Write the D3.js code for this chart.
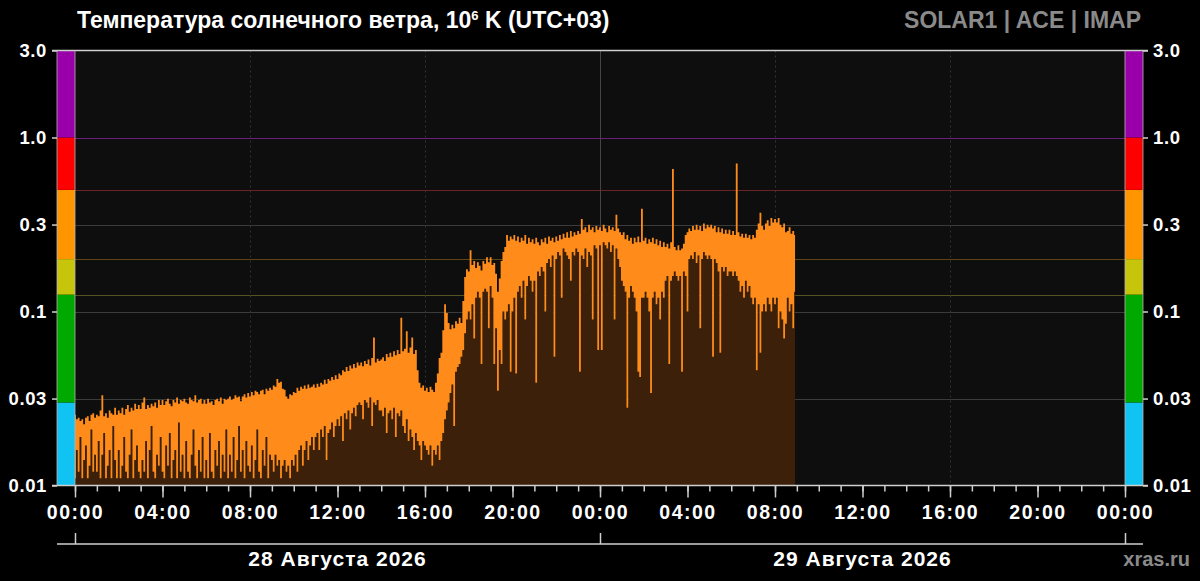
<!DOCTYPE html>
<html>
<head>
<meta charset="utf-8">
<script src="https://cdn.jsdelivr.net/npm/d3@7"></script>
<style>
  html, body { margin: 0; padding: 0; background: #000; }
  svg { display: block; font-family: "Liberation Sans", Arial, sans-serif; }
</style>
</head>
<body>
<div id="chart"></div>
<script>
// Solar wind temperature, 10^6 K, 5-minute samples from 28.08.2026 00:00 (UTC+03)
// upper value of each sample (one row = one hour, 12 samples)
const tempHigh = [
  0.0255, 0.024, 0.0245, 0.0235, 0.024, 0.0225, 0.0245, 0.025, 0.0235, 0.0255, 0.026, 0.0245,
  0.0255, 0.025, 0.027, 0.033, 0.025, 0.026, 0.0245, 0.027, 0.026, 0.0255, 0.028, 0.0255,
  0.027, 0.026, 0.028, 0.0255, 0.0275, 0.029, 0.0265, 0.028, 0.027, 0.0295, 0.0275, 0.029,
  0.0275, 0.030, 0.032, 0.0275, 0.029, 0.028, 0.0295, 0.0285, 0.030, 0.028, 0.031, 0.029,
  0.031, 0.029, 0.0305, 0.0315, 0.0295, 0.0285, 0.031, 0.030, 0.032, 0.0295, 0.031, 0.0305,
  0.0315, 0.030, 0.0295, 0.032, 0.031, 0.0305, 0.033, 0.030, 0.031, 0.0315, 0.0295, 0.031,
  0.0295, 0.0315, 0.030, 0.0305, 0.029, 0.031, 0.0315, 0.0305, 0.032, 0.0295, 0.0315, 0.031,
  0.0315, 0.0325, 0.031, 0.0315, 0.033, 0.032, 0.0325, 0.0305, 0.0325, 0.0335, 0.032, 0.034,
  0.0325, 0.0345, 0.033, 0.035, 0.0345, 0.0335, 0.035, 0.0355, 0.0335, 0.036, 0.035, 0.0365,
  0.0355, 0.0375, 0.037, 0.041, 0.039, 0.0395, 0.036, 0.0355, 0.0325, 0.0315, 0.0335, 0.033,
  0.0345, 0.034, 0.0365, 0.035, 0.037, 0.036, 0.0375, 0.036, 0.038, 0.0365, 0.037, 0.038,
  0.0365, 0.0385, 0.037, 0.039, 0.038, 0.0405, 0.0385, 0.041, 0.040, 0.042, 0.0405, 0.043,
  0.041, 0.044, 0.043, 0.046, 0.045, 0.048, 0.0455, 0.049, 0.047, 0.050, 0.0475, 0.051,
  0.049, 0.051, 0.0485, 0.052, 0.050, 0.053, 0.049, 0.054, 0.071, 0.051, 0.0535, 0.052,
  0.053, 0.0545, 0.052, 0.057, 0.0545, 0.058, 0.055, 0.059, 0.056, 0.060, 0.057, 0.092,
  0.059, 0.061, 0.077, 0.058, 0.062, 0.071, 0.057, 0.060, 0.046, 0.039, 0.0365, 0.0375,
  0.035, 0.0365, 0.0345, 0.037, 0.0355, 0.0345, 0.039, 0.044, 0.054, 0.058, 0.078, 0.110,
  0.098, 0.086, 0.079, 0.084, 0.080, 0.088, 0.085, 0.092, 0.086, 0.115, 0.158, 0.175,
  0.170, 0.225, 0.185, 0.195, 0.178, 0.192, 0.183, 0.172, 0.195, 0.188, 0.205, 0.192,
  0.205, 0.185, 0.190, 0.165, 0.130, 0.155, 0.195, 0.220, 0.235, 0.275, 0.255, 0.270,
  0.260, 0.275, 0.255, 0.270, 0.250, 0.265, 0.255, 0.275, 0.245, 0.265, 0.250, 0.260,
  0.245, 0.265, 0.250, 0.240, 0.260, 0.250, 0.265, 0.245, 0.270, 0.255, 0.265, 0.250,
  0.270, 0.255, 0.275, 0.260, 0.280, 0.265, 0.285, 0.265, 0.290, 0.270, 0.285, 0.275,
  0.290, 0.280, 0.340, 0.295, 0.305, 0.285, 0.315, 0.295, 0.305, 0.285, 0.310, 0.295,
  0.305, 0.290, 0.315, 0.300, 0.285, 0.310, 0.295, 0.305, 0.290, 0.360, 0.300, 0.285,
  0.275, 0.285, 0.260, 0.275, 0.255, 0.265, 0.245, 0.265, 0.250, 0.270, 0.250, 0.390,
  0.255, 0.265, 0.245, 0.260, 0.250, 0.265, 0.245, 0.260, 0.240, 0.255, 0.235, 0.250,
  0.235, 0.245, 0.230, 0.250, 0.660, 0.235, 0.225, 0.240, 0.225, 0.230, 0.245, 0.275,
  0.285, 0.300, 0.290, 0.310, 0.295, 0.315, 0.295, 0.310, 0.290, 0.320, 0.300, 0.315,
  0.305, 0.315, 0.300, 0.310, 0.285, 0.305, 0.285, 0.300, 0.280, 0.295, 0.280, 0.295,
  0.275, 0.290, 0.275, 0.710, 0.285, 0.270, 0.280, 0.265, 0.280, 0.265, 0.275, 0.260,
  0.275, 0.265, 0.295, 0.320, 0.370, 0.310, 0.295, 0.320, 0.335, 0.310, 0.345, 0.325,
  0.340, 0.325, 0.345, 0.315, 0.305, 0.320, 0.285, 0.290, 0.305, 0.280, 0.290, 0.275
];

// lower value of each sample
const tempLow = [
  0.011, 0.016, 0.012, 0.019, 0.011, 0.014, 0.017, 0.011, 0.013, 0.021, 0.012, 0.015,
  0.012, 0.018, 0.011, 0.015, 0.020, 0.011, 0.013, 0.016, 0.011, 0.022, 0.014, 0.011,
  0.016, 0.011, 0.013, 0.019, 0.012, 0.011, 0.015, 0.021, 0.011, 0.014, 0.017, 0.012,
  0.011, 0.014, 0.012, 0.018, 0.011, 0.016, 0.022, 0.012, 0.011, 0.015, 0.013, 0.019,
  0.012, 0.011, 0.017, 0.013, 0.020, 0.011, 0.014, 0.016, 0.011, 0.023, 0.012, 0.015,
  0.011, 0.018, 0.012, 0.011, 0.015, 0.021, 0.013, 0.011, 0.016, 0.012, 0.019, 0.011,
  0.014, 0.011, 0.020, 0.012, 0.011, 0.016, 0.013, 0.018, 0.011, 0.015, 0.012, 0.021,
  0.011, 0.015, 0.012, 0.019, 0.011, 0.014, 0.022, 0.012, 0.016, 0.011, 0.018, 0.013,
  0.012, 0.017, 0.011, 0.014, 0.021, 0.012, 0.011, 0.016, 0.013, 0.019, 0.011, 0.015,
  0.014, 0.012, 0.015, 0.013, 0.014, 0.011, 0.013, 0.014, 0.012, 0.013, 0.011, 0.014,
  0.013, 0.015, 0.012, 0.016, 0.017, 0.013, 0.016, 0.018, 0.014, 0.017, 0.019, 0.016,
  0.019, 0.020, 0.016, 0.021, 0.019, 0.022, 0.014, 0.020, 0.021, 0.023, 0.019, 0.022,
  0.024, 0.022, 0.025, 0.018, 0.026, 0.024, 0.027, 0.021, 0.026, 0.028, 0.025, 0.029,
  0.030, 0.029, 0.024, 0.031, 0.030, 0.028, 0.032, 0.022, 0.030, 0.029, 0.031, 0.027,
  0.027, 0.025, 0.028, 0.020, 0.026, 0.027, 0.024, 0.028, 0.019, 0.026, 0.025, 0.027,
  0.022, 0.020, 0.024, 0.018, 0.021, 0.019, 0.016, 0.020, 0.018, 0.017, 0.014, 0.018,
  0.017, 0.016, 0.015, 0.017, 0.013, 0.016, 0.015, 0.017, 0.014, 0.018, 0.020, 0.024,
  0.027, 0.030, 0.034, 0.038, 0.022, 0.045, 0.048, 0.050, 0.055, 0.060, 0.075, 0.090,
  0.100, 0.090, 0.110, 0.070, 0.120, 0.130, 0.120, 0.050, 0.130, 0.135, 0.130, 0.080,
  0.140, 0.120, 0.050, 0.080, 0.035, 0.060, 0.050, 0.100, 0.090, 0.100, 0.110, 0.045,
  0.100, 0.120, 0.044, 0.130, 0.140, 0.120, 0.150, 0.090, 0.140, 0.160, 0.150, 0.130,
  0.150, 0.039, 0.170, 0.160, 0.180, 0.170, 0.100, 0.190, 0.200, 0.180, 0.210, 0.055,
  0.200, 0.220, 0.210, 0.120, 0.230, 0.220, 0.210, 0.200, 0.150, 0.220, 0.210, 0.230,
  0.220, 0.045, 0.210, 0.200, 0.230, 0.180, 0.220, 0.210, 0.090, 0.240, 0.230, 0.060,
  0.240, 0.060, 0.250, 0.240, 0.230, 0.250, 0.220, 0.240, 0.090, 0.230, 0.200, 0.180,
  0.150, 0.140, 0.130, 0.028, 0.120, 0.140, 0.130, 0.120, 0.100, 0.045, 0.042, 0.120,
  0.120, 0.130, 0.120, 0.100, 0.034, 0.120, 0.130, 0.110, 0.120, 0.090, 0.130, 0.120,
  0.150, 0.160, 0.050, 0.150, 0.160, 0.170, 0.160, 0.150, 0.160, 0.045, 0.170, 0.160,
  0.100, 0.200, 0.210, 0.200, 0.220, 0.190, 0.210, 0.080, 0.200, 0.220, 0.210, 0.200,
  0.210, 0.200, 0.055, 0.200, 0.190, 0.170, 0.058, 0.180, 0.170, 0.180, 0.160, 0.170,
  0.170, 0.160, 0.170, 0.160, 0.150, 0.130, 0.140, 0.120, 0.150, 0.130, 0.140, 0.120,
  0.110, 0.120, 0.046, 0.110, 0.058, 0.100, 0.110, 0.100, 0.120, 0.110, 0.100, 0.120,
  0.110, 0.120, 0.080, 0.100, 0.090, 0.070, 0.085, 0.120, 0.100, 0.110, 0.080, 0.130
];

const sampleStart = Date.UTC(2026, 7, 28, 0, 0);
const sampleStepMin = 5;

// axis values
const yTickValues = [0.01, 0.0316, 0.1, 0.316, 1, 3.1623];
const yTickLabels = ["0.01", "0.03", "0.1", "0.3", "1.0", "3.0"];
const dayStarts = [Date.UTC(2026, 7, 28), Date.UTC(2026, 7, 29), Date.UTC(2026, 7, 30)];
const dayLabels = ["28 Августа 2026", "29 Августа 2026"];

// level bands of the side scales and their border lines
const bandLimits = [0.01, 0.03, 0.125, 0.2, 0.5, 1.0, 3.1623];
const bandColors = ["#10c3f3", "#00a900", "#c6c50c", "#ff9500", "#ff0000", "#9a00a9"];
const levelValues = [0.125, 0.2, 0.5, 1.0];
const levelColors = ["#55521f", "#5e4516", "#6a2424", "#6b1e7a"];

const width = 1200;
const height = 581;
const plot = { left: 75, right: 1125, top: 50.5, bottom: 485.5 };
const barW = 18;
const axisColor = "#cfcfcf";

const svg = d3
  .select("#chart")
  .append("svg")
  .attr("width", width)
  .attr("height", height);

svg.append("rect").attr("width", width).attr("height", height).attr("fill", "#000");

const data = tempHigh.map((hi, i) => ({
  t: new Date(sampleStart + i * sampleStepMin * 60000),
  hi: hi,
  lo: tempLow[i]
}));

const x = d3
  .scaleUtc()
  .domain([dayStarts[0], dayStarts[2]])
  .range([plot.left, plot.right]);

const y = d3
  .scaleLog()
  .domain([bandLimits[0], bandLimits[bandLimits.length - 1]])
  .range([plot.bottom, plot.top]);

// plot background
svg
  .append("rect")
  .attr("x", plot.left)
  .attr("y", plot.top)
  .attr("width", plot.right - plot.left)
  .attr("height", plot.bottom - plot.top)
  .attr("fill", "#0e0e0e");

// side colour scales
[plot.left - barW, plot.right].forEach(bx => {
  svg
    .append("g")
    .selectAll("rect")
    .data(bandColors)
    .join("rect")
    .attr("x", bx)
    .attr("width", barW)
    .attr("y", (c, i) => y(bandLimits[i + 1]))
    .attr("height", (c, i) => y(bandLimits[i]) - y(bandLimits[i + 1]))
    .attr("fill", c => c);
});

// horizontal grid at tick values
svg
  .append("g")
  .selectAll("line")
  .data(yTickValues.slice(1, 4))
  .join("line")
  .attr("x1", plot.left)
  .attr("x2", plot.right)
  .attr("y1", d => Math.round(y(d)) + 0.5)
  .attr("y2", d => Math.round(y(d)) + 0.5)
  .attr("stroke", "#3b3b3b")
  .attr("stroke-width", 1);

// level lines
svg
  .append("g")
  .selectAll("line")
  .data(levelValues)
  .join("line")
  .attr("x1", plot.left)
  .attr("x2", plot.right)
  .attr("y1", d => Math.round(y(d)) + 0.5)
  .attr("y2", d => Math.round(y(d)) + 0.5)
  .attr("stroke", (d, i) => levelColors[i])
  .attr("stroke-width", 1.2);

// vertical grid: dotted every 8 hours, solid at midnight
const gridTimes = x.ticks(d3.utcHour.every(8)).slice(1, -1);
svg
  .append("g")
  .selectAll("line")
  .data(gridTimes)
  .join("line")
  .attr("x1", d => Math.round(x(d)) + 0.5)
  .attr("x2", d => Math.round(x(d)) + 0.5)
  .attr("y1", plot.top)
  .attr("y2", plot.bottom)
  .attr("stroke", d => (d.getUTCHours() === 0 ? "#444" : "#333"))
  .attr("stroke-dasharray", d => (d.getUTCHours() === 0 ? null : "2,3"));

// data: brown below the lower values, orange between lower and upper
const areaBase = d3
  .area()
  .curve(d3.curveStep)
  .x(d => x(d.t))
  .y0(plot.bottom)
  .y1(d => y(d.lo));

const areaBand = d3
  .area()
  .curve(d3.curveStep)
  .x(d => x(d.t))
  .y0(d => y(d.lo))
  .y1(d => y(d.hi));

svg.append("path").datum(data).attr("fill", "#3c2009").attr("d", areaBase);
svg.append("path").datum(data).attr("fill", "#ff8c1a").attr("d", areaBand);

// frame lines
const frame = svg.append("g").attr("stroke", axisColor).attr("stroke-width", 1.5);
frame.append("line").attr("x1", 52).attr("x2", 1148).attr("y1", plot.top).attr("y2", plot.top);
frame.append("line").attr("x1", 52).attr("x2", 1148).attr("y1", plot.bottom).attr("y2", plot.bottom);
[plot.left - barW, plot.left, plot.right, plot.right + barW].forEach(lx => {
  svg
    .append("line")
    .attr("x1", lx)
    .attr("x2", lx)
    .attr("y1", plot.top)
    .attr("y2", plot.bottom)
    .attr("stroke", "#b5b5b5")
    .attr("stroke-width", 0.8);
});

// y axes
function styleAxis(g) {
  g.select(".domain").remove();
  g.selectAll(".tick line").attr("stroke", axisColor).attr("stroke-width", 1.5);
  g.selectAll(".tick text")
    .attr("fill", "#fff")
    .attr("font-size", "18.5px")
    .attr("font-weight", "bold")
    .attr("font-family", "'Liberation Sans', Arial, sans-serif")
    .style("letter-spacing", "0.6px");
}

const yLabel = d => yTickLabels[yTickValues.indexOf(d)];

svg
  .append("g")
  .attr("transform", `translate(${plot.left - barW},0)`)
  .call(d3.axisLeft(y).tickValues(yTickValues).tickFormat(yLabel).tickSize(5).tickPadding(5))
  .call(styleAxis);

svg
  .append("g")
  .attr("transform", `translate(${plot.right + barW},0)`)
  .call(d3.axisRight(y).tickValues(yTickValues).tickFormat(yLabel).tickSize(5).tickPadding(5))
  .call(styleAxis);

// x axis: hourly minor ticks, 4-hour labels
svg
  .append("g")
  .attr("transform", `translate(0,${plot.bottom})`)
  .call(d3.axisBottom(x).ticks(d3.utcHour.every(1)).tickFormat("").tickSize(6))
  .call(styleAxis);

svg
  .append("g")
  .attr("transform", `translate(0,${plot.bottom})`)
  .call(
    d3.axisBottom(x)
      .ticks(d3.utcHour.every(4))
      .tickFormat(d3.utcFormat("%H:%M"))
      .tickSize(12)
      .tickPadding(8)
  )
  .call(styleAxis)
  .call(g => g.selectAll(".tick text").attr("font-size", "19.5px").style("letter-spacing", "1.5px"));

// date axis
svg
  .append("line")
  .attr("x1", plot.left - barW)
  .attr("x2", plot.right + barW)
  .attr("y1", 544)
  .attr("y2", 544)
  .attr("stroke", axisColor)
  .attr("stroke-width", 1.5);

svg
  .append("g")
  .attr("transform", "translate(0,544)")
  .call(d3.axisTop(x).tickValues(dayStarts.map(d => new Date(d))).tickFormat("").tickSize(11))
  .call(styleAxis);

svg
  .append("g")
  .selectAll("text")
  .data(dayLabels)
  .join("text")
  .attr("x", (d, i) => x(new Date((dayStarts[i] + dayStarts[i + 1]) / 2)))
  .attr("y", 566)
  .attr("text-anchor", "middle")
  .attr("fill", "#fff")
  .attr("font-size", "21px")
  .attr("font-weight", "bold")
  .style("letter-spacing", "1px")
  .text(d => d);

// titles
const title = svg
  .append("text")
  .attr("x", 77)
  .attr("y", 28)
  .attr("fill", "#fff")
  .attr("font-size", "23px")
  .attr("font-weight", "bold");
title.append("tspan").text("Температура солнечного ветра, 10");
title.append("tspan").attr("dy", -8).attr("font-size", "13px").text("6");
title.append("tspan").attr("dy", 8).text(" K (UTC+03)");

svg
  .append("text")
  .attr("x", 1141)
  .attr("y", 28)
  .attr("text-anchor", "end")
  .attr("fill", "#8a8a8a")
  .attr("font-size", "23px")
  .attr("font-weight", "bold")
  .text("SOLAR1 | ACE | IMAP");

svg
  .append("text")
  .attr("x", 1190)
  .attr("y", 566)
  .attr("text-anchor", "end")
  .attr("fill", "#8a8a8a")
  .attr("font-size", "20px")
  .attr("font-weight", "bold")
  .text("xras.ru");
</script>
</body>
</html>
